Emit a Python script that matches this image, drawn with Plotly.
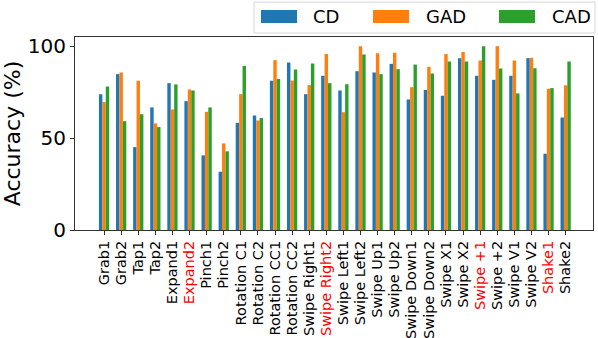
import plotly.graph_objects as go

gestures = ['Grab1', 'Grab2', 'Tap1', 'Tap2', 'Expand1', 'Expand2', 'Pinch1', 'Pinch2',
            'Rotation C1', 'Rotation C2', 'Rotation CC1', 'Rotation CC2',
            'Swipe Right1', 'Swipe Right2', 'Swipe Left1', 'Swipe Left2',
            'Swipe Up1', 'Swipe Up2', 'Swipe Down1', 'Swipe Down2',
            'Swipe X1', 'Swipe X2', 'Swipe +1', 'Swipe +2',
            'Swipe V1', 'Swipe V2', 'Shake1', 'Shake2']
highlighted = ['Expand2', 'Swipe Right2', 'Swipe +1', 'Shake1']

cd = [73.9, 84.8, 45.1, 66.7, 79.9, 70.1, 40.6, 31.7,
      58.3, 62.3, 81.2, 91.1,
      73.9, 83.9, 75.9, 86.4,
      85.7, 90.4, 71.0, 76.1,
      73.0, 93.5, 83.9, 81.7,
      83.9, 93.5, 41.5, 61.2]
gad = [69.6, 85.7, 81.2, 58.0, 65.6, 76.4, 64.3, 47.1,
       73.9, 59.6, 92.4, 81.3,
       78.8, 95.7, 64.1, 100.0,
       96.2, 96.4, 77.7, 88.8,
       95.7, 96.9, 92.2, 100.0,
       92.2, 93.7, 76.8, 78.8]
cad = [78.1, 59.2, 63.0, 56.0, 79.2, 75.9, 66.7, 42.8,
       89.3, 60.9, 82.2, 87.3,
       90.6, 79.9, 79.3, 95.5,
       84.8, 87.5, 90.0, 85.1,
       91.7, 91.7, 100.0, 87.9,
       74.3, 88.0, 77.2, 91.7]

series = [('CD', cd, '#1f77b4'), ('GAD', gad, '#ff7f0e'), ('CAD', cad, '#2ca02c')]

tick_text = [f'<span style="color:red">{g}</span>' if g in highlighted else g for g in gestures]
xs = list(range(len(gestures)))

fig = go.Figure()
for name, vals, color in series:
    fig.add_trace(go.Bar(x=xs, y=vals, name=name, marker=dict(color=color, line_width=0)))

fig.update_layout(
    width=598,
    height=338,
    margin=dict(l=75, r=5, t=37, b=108, autoexpand=False),
    plot_bgcolor='white',
    paper_bgcolor='white',
    font=dict(family='DejaVu Sans', color='black'),
    barmode='group',
    bargap=0.4,
    bargroupgap=0,
    showlegend=False,
)

# legend drawn by hand, matplotlib style (wide patches, light frame)
fig.add_shape(type='rect', xref='paper', yref='paper', x0=0.3456, x1=1.0039, y0=1.0207, y1=1.181,
              line=dict(color='#d5d5d5', width=1), fillcolor='white', layer='above')
patch_x = [0.3591, 0.5753, 0.8185]
text_x = [0.4556, 0.6737, 0.9170]
for (name, vals, color), px, tx in zip(series, patch_x, text_x):
    fig.add_shape(type='rect', xref='paper', yref='paper', x0=px, x1=px + 0.0695, y0=1.073, y1=1.140,
                  line_width=0, fillcolor=color, layer='above')
    fig.add_annotation(xref='paper', yref='paper', x=tx, y=1.106, text=name, showarrow=False,
                       xanchor='left', yanchor='middle', font=dict(size=18))

fig.update_xaxes(
    tickmode='array',
    tickvals=xs,
    ticktext=tick_text,
    tickangle=-90,
    tickfont=dict(size=14.5),
    range=[-1.7, 28.6],
    automargin=False,
    showline=True, linecolor='#333', linewidth=1, mirror=True,
    ticks='outside', ticklen=4, tickcolor='#333',
    showgrid=False,
)
fig.update_yaxes(
    range=[0, 105],
    tickvals=[0, 50, 100],
    tickfont=dict(size=20),
    automargin=False,
    title=dict(text='Accuracy (%)', font=dict(size=22), standoff=4),
    showline=True, linecolor='#333', linewidth=1, mirror=True,
    ticks='outside', ticklen=4, tickcolor='#333',
    showgrid=False, zeroline=False,
)

# the page body has a default margin; drop it so the figure sits at the window corner
fig.write_html("out.html", config={'displayModeBar': False},
               post_script="document.body.style.margin='0';")
